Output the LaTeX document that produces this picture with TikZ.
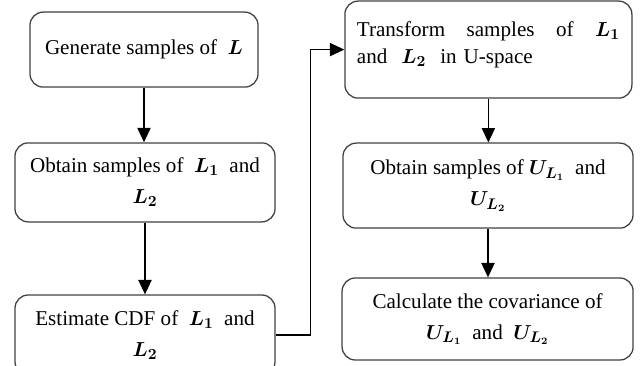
\documentclass[tikz,border=0pt]{standalone}
\usepackage{amsmath}
\usepackage{amssymb}
\usepackage{fontspec}
\setmainfont{Liberation Serif}
\usetikzlibrary{arrows.meta}

\tikzset{
  flowbox/.style={draw=black!75, line width=0.9pt, rounded corners=0.33cm,
    align=center, inner sep=0pt, font=\fontsize{15}{22}\selectfont},
  flowarrow/.style={-{Triangle[length=0.36cm,width=0.33cm]}, line width=1pt}
}

\begin{document}
\begin{tikzpicture}
  \useasboundingbox (0,0) rectangle (16.1,9.15);
  % left column
  \node[flowbox, minimum width=5.7cm, minimum height=1.875cm] (gen) at (3.6,7.91)
    {Generate samples of \ $\boldsymbol{L}$};
  \node[flowbox, minimum width=6.5cm, minimum height=1.975cm] (obt) at (3.625,4.59)
    {Obtain samples of \ $\boldsymbol{L_1}$\ \ and\\ $\boldsymbol{L_2}$};
  \node[flowbox, minimum width=6.5cm, minimum height=2.0cm] (est) at (3.625,0.775)
    {Estimate CDF of \ $\boldsymbol{L_1}$\ \ and\\ $\boldsymbol{L_2}$};
  % right column
  \node[flowbox, align=left, text width=6.575cm, minimum width=7.175cm, minimum height=2.425cm] (trans) at (12.21,7.91)
    {\hbox to 6.575cm{Transform\hfill samples\hfill of\hfill $\boldsymbol{L_1}$}\\[-3pt] and \ $\boldsymbol{L_2}$\ \ in U-space\\[-12pt] \mbox{}};
  \node[flowbox, minimum width=7.25cm, minimum height=2.125cm] (obtU) at (12.2,4.51)
    {Obtain samples of $\boldsymbol{U_{L_1}}$\ \ and\\ $\boldsymbol{U_{L_2}}$};
  \node[flowbox, minimum width=7.275cm, minimum height=2.05cm] (calc) at (12.19,1.175)
    {Calculate the covariance of\\ $\boldsymbol{U_{L_1}}$\ \ and\ \ $\boldsymbol{U_{L_2}}$};
  % connectors
  \draw[flowarrow] (gen.south) -- (gen.south |- obt.north);
  \draw[flowarrow] (obt.south) -- (obt.south |- est.north);
  \draw[flowarrow] (est.east) -- ++(0.875,0) |- (trans.west);
  \draw[flowarrow] (trans.south) -- (trans.south |- obtU.north);
  \draw[flowarrow] (obtU.south) -- (obtU.south |- calc.north);
\end{tikzpicture}
\end{document}
